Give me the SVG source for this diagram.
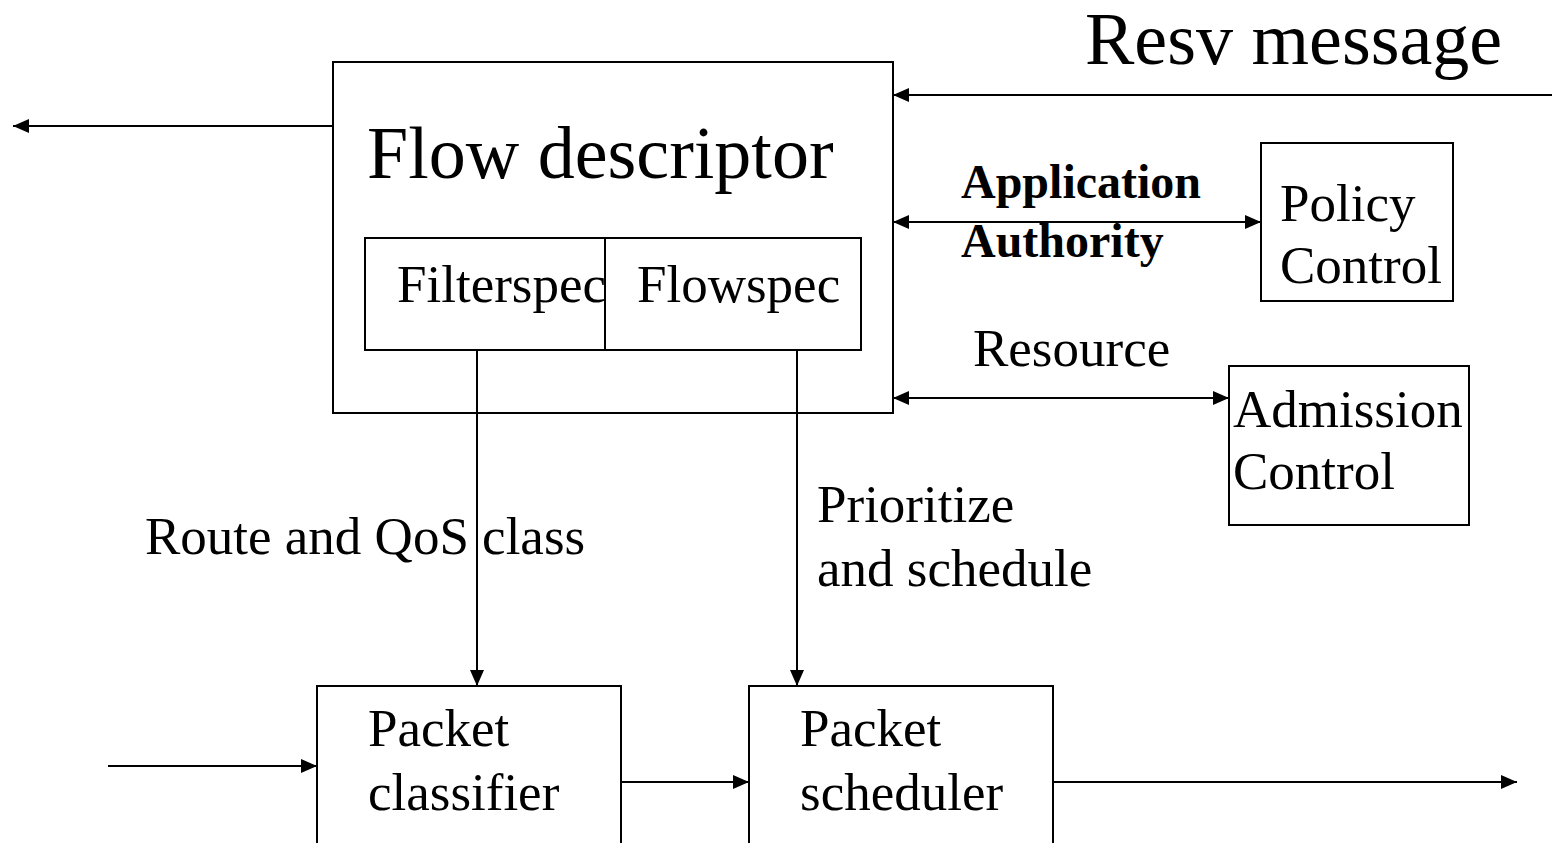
<svg xmlns="http://www.w3.org/2000/svg" width="1552" height="843" viewBox="0 0 1552 843">
  <style>
    .box { fill: #fff; stroke: #000; stroke-width: 2; }
    .ln { fill: none; stroke: #000; stroke-width: 2; }
    text { font-family: "Liberation Serif", "Times New Roman", serif; fill: #000; }
    .xl { font-size: 74px; }
    .md { font-size: 53px; }
    .bd { font-size: 48px; font-weight: bold; }
  </style>
  <defs>
    <marker id="ah" viewBox="0 0 16 14" refX="16" refY="7" markerWidth="16" markerHeight="14" markerUnits="userSpaceOnUse" orient="auto-start-reverse">
      <path d="M0,0 L16,7 L0,14 z" fill="#000"/>
    </marker>
  </defs>

  <rect width="1552" height="843" fill="#fff"/>

  <!-- title -->
  <text class="xl" x="1085" y="64">Resv message</text>

  <!-- flow descriptor with its two spec fields -->
  <g id="flow-descriptor">
    <rect class="box" x="333" y="62" width="560" height="351"/>
    <text class="xl" x="367" y="178">Flow descriptor</text>
  </g>
  <g id="filterspec">
    <rect class="box" x="365" y="238" width="240" height="112"/>
    <text class="md" x="397" y="302">Filterspec</text>
  </g>
  <g id="flowspec">
    <rect class="box" x="605" y="238" width="256" height="112"/>
    <text class="md" x="637" y="302">Flowspec</text>
  </g>

  <g id="policy-control">
    <rect class="box" x="1261" y="143" width="192" height="158"/>
    <text class="md" x="1280" y="221">Policy</text>
    <text class="md" x="1280" y="283">Control</text>
  </g>

  <g id="admission-control">
    <rect class="box" x="1229" y="366" width="240" height="159"/>
    <text class="md" x="1233" y="427">Admission</text>
    <text class="md" x="1233" y="489">Control</text>
  </g>

  <g id="packet-classifier">
    <rect class="box" x="317" y="686" width="304" height="170"/>
    <text class="md" x="368" y="746">Packet</text>
    <text class="md" x="368" y="810">classifier</text>
  </g>

  <g id="packet-scheduler">
    <rect class="box" x="749" y="686" width="304" height="170"/>
    <text class="md" x="800" y="746">Packet</text>
    <text class="md" x="800" y="810">scheduler</text>
  </g>

  <!-- connectors -->
  <g id="connectors">
    <line class="ln" x1="333" y1="126" x2="13" y2="126" marker-end="url(#ah)"/>
    <line class="ln" x1="1552" y1="95" x2="893" y2="95" marker-end="url(#ah)"/>
    <line class="ln" x1="893" y1="222" x2="1261" y2="222" marker-start="url(#ah)" marker-end="url(#ah)"/>
    <line class="ln" x1="893" y1="398" x2="1229" y2="398" marker-start="url(#ah)" marker-end="url(#ah)"/>
    <line class="ln" x1="477" y1="350" x2="477" y2="686" marker-end="url(#ah)"/>
    <line class="ln" x1="797" y1="350" x2="797" y2="686" marker-end="url(#ah)"/>
    <line class="ln" x1="108" y1="766" x2="317" y2="766" marker-end="url(#ah)"/>
    <line class="ln" x1="621" y1="782" x2="749" y2="782" marker-end="url(#ah)"/>
    <line class="ln" x1="1053" y1="782" x2="1517" y2="782" marker-end="url(#ah)"/>
  </g>

  <!-- connector labels -->
  <text class="bd" x="961" y="198">Application</text>
  <text class="bd" x="961" y="257">Authority</text>
  <text class="md" x="973" y="366">Resource</text>
  <text class="md" x="145" y="554">Route and QoS class</text>
  <text class="md" x="817" y="522">Prioritize</text>
  <text class="md" x="817" y="586">and schedule</text>
</svg>
